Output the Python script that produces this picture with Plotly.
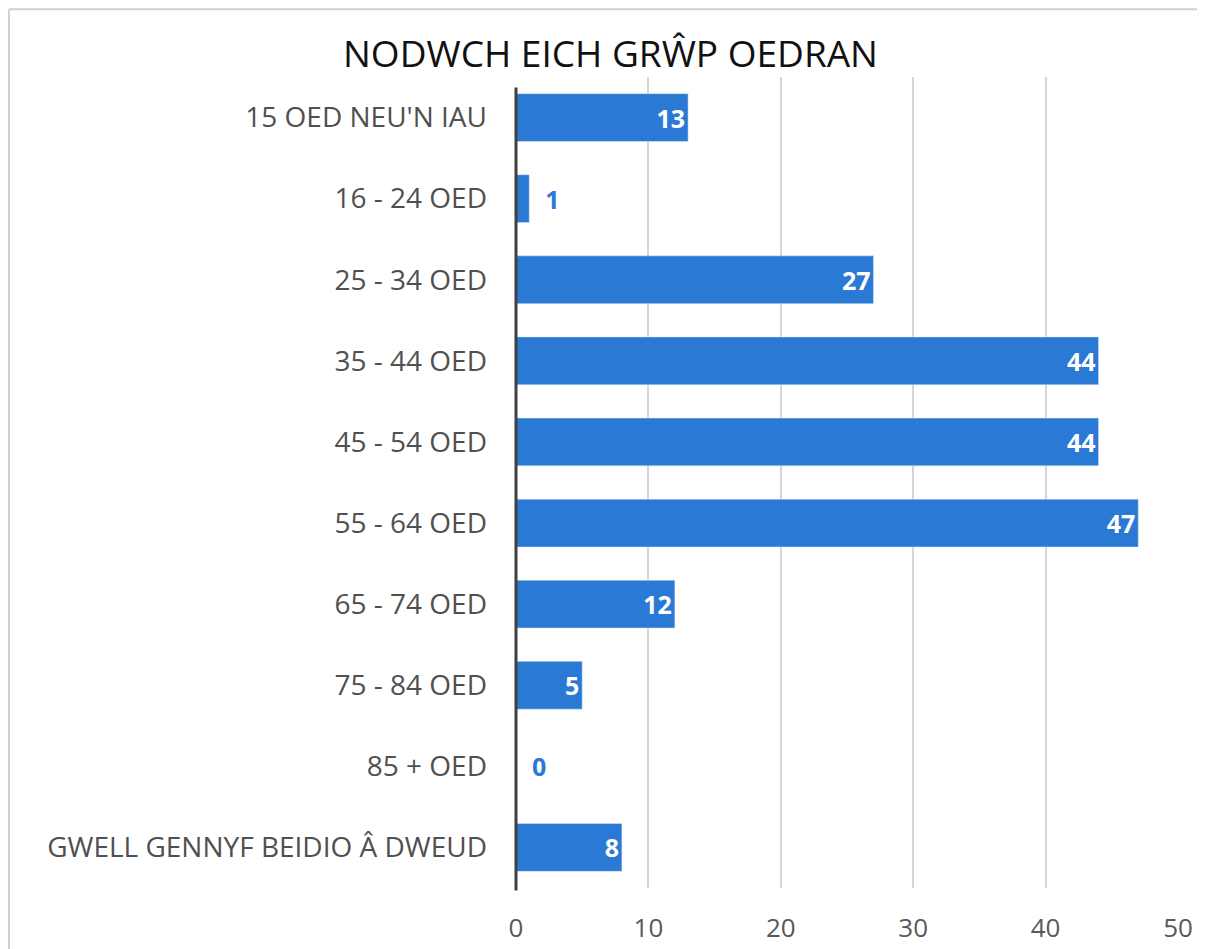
import plotly.graph_objects as go

# age groups, top to bottom as in the chart
groups = ["15 OED NEU'N IAU", "16 - 24 OED", "25 - 34 OED", "35 - 44 OED", "45 - 54 OED",
          "55 - 64 OED", "65 - 74 OED", "75 - 84 OED", "85 + OED", "GWELL GENNYF BEIDIO Â DWEUD"]
counts = [13, 1, 27, 44, 44, 47, 12, 5, 0, 8]
ticks = [0, 10, 20, 30, 40, 50]

blue = "#2a79d4"
positions = ["inside" if c >= 3 else "outside" for c in counts]
label_colors = ["white" if c >= 3 else blue for c in counts]
labels = [str(c) if c >= 3 else "  " + str(c) for c in counts]

# note: the page body has an 8px default margin, so margins are shifted by 8px
fig = go.Figure(go.Bar(
    y=groups, x=counts, orientation="h",
    marker_color=blue,
    text=labels, textposition=positions, insidetextanchor="end",
    textfont=dict(family="Open Sans", size=25, color=label_colors, weight="bold"),
    cliponaxis=False,
))

fig.update_layout(
    width=1205, height=949,
    margin=dict(l=508, r=35, t=69, b=66),
    paper_bgcolor="white", plot_bgcolor="white",
    bargap=0.41,
    showlegend=False,
    title=dict(text="NODWCH EICH GRŴP OEDRAN", x=0.5, xanchor="center", y=0.951, yanchor="middle",
               font=dict(family="Open Sans", size=37, color="#111111")),
    font=dict(family="Open Sans", color="#404040"),
    xaxis=dict(range=[0, 50], tickvals=ticks, showgrid=True, gridcolor="#d6d6d6", gridwidth=2,
               zeroline=False, showline=False, ticks="", ticklabelstandoff=22,
               tickfont=dict(size=26, color="#595959")),
    yaxis=dict(autorange="reversed", tickfont=dict(size=28, color="#505050"), ticks="",
               ticklabelstandoff=28, showline=False, showgrid=False),
    shapes=[
        # dark value axis line at zero
        dict(type="line", xref="paper", yref="paper", x0=0, x1=0, y0=-0.003, y1=0.987,
             line=dict(color="#404040", width=3)),
        # light frame around the chart (top and left edges)
        dict(type="line", xref="paper", yref="paper", x0=-0.766, x1=1.06, y0=1.0835, y1=1.0835,
             line=dict(color="#d0d0d0", width=2)),
        dict(type="line", xref="paper", yref="paper", x0=-0.766, x1=-0.766, y0=-0.09, y1=1.0835,
             line=dict(color="#d0d0d0", width=2)),
    ],
)

fig.write_html("out.html")
